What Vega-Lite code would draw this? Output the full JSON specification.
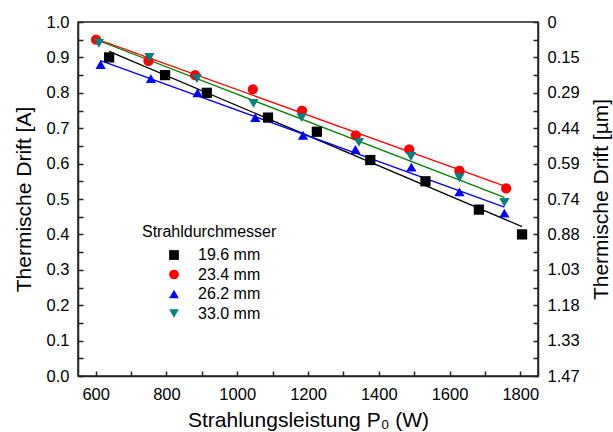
{
  "$schema": "https://vega.github.io/schema/vega-lite/v6.json",
  "width": 460,
  "height": 354,
  "autosize": "none",
  "padding": {"left": 78, "top": 22, "right": 75, "bottom": 56},
  "background": "white",
  "config": {
    "font": "Liberation Sans",
    "view": {"stroke": "#222", "strokeWidth": 1.5},
    "axis": {
      "grid": false,
      "domainColor": "#222",
      "domainWidth": 1.5,
      "tickColor": "#222",
      "tickWidth": 1.5,
      "tickSize": -5,
      "labelFontSize": 16.5,
      "labelColor": "#000",
      "labelPadding": 14,
      "titleFontSize": 21,
      "titleFontWeight": "normal",
      "titleColor": "#000"
    }
  },
  "data": {
    "values": [
      {"diam": "19.6 mm", "power": 638, "drift": 0.90},
      {"diam": "19.6 mm", "power": 796, "drift": 0.85},
      {"diam": "19.6 mm", "power": 914, "drift": 0.80},
      {"diam": "19.6 mm", "power": 1087, "drift": 0.73},
      {"diam": "19.6 mm", "power": 1225, "drift": 0.69},
      {"diam": "19.6 mm", "power": 1376, "drift": 0.61},
      {"diam": "19.6 mm", "power": 1532, "drift": 0.55},
      {"diam": "19.6 mm", "power": 1683, "drift": 0.47},
      {"diam": "19.6 mm", "power": 1805, "drift": 0.40},
      {"diam": "23.4 mm", "power": 601, "drift": 0.95},
      {"diam": "23.4 mm", "power": 749, "drift": 0.89},
      {"diam": "23.4 mm", "power": 881, "drift": 0.85},
      {"diam": "23.4 mm", "power": 1044, "drift": 0.81},
      {"diam": "23.4 mm", "power": 1183, "drift": 0.75},
      {"diam": "23.4 mm", "power": 1335, "drift": 0.68},
      {"diam": "23.4 mm", "power": 1486, "drift": 0.64},
      {"diam": "23.4 mm", "power": 1628, "drift": 0.58},
      {"diam": "23.4 mm", "power": 1760, "drift": 0.53},
      {"diam": "26.2 mm", "power": 614, "drift": 0.88},
      {"diam": "26.2 mm", "power": 756, "drift": 0.84},
      {"diam": "26.2 mm", "power": 888, "drift": 0.80},
      {"diam": "26.2 mm", "power": 1051, "drift": 0.73},
      {"diam": "26.2 mm", "power": 1186, "drift": 0.68},
      {"diam": "26.2 mm", "power": 1334, "drift": 0.64},
      {"diam": "26.2 mm", "power": 1492, "drift": 0.59},
      {"diam": "26.2 mm", "power": 1628, "drift": 0.52},
      {"diam": "26.2 mm", "power": 1755, "drift": 0.46},
      {"diam": "33.0 mm", "power": 609, "drift": 0.94},
      {"diam": "33.0 mm", "power": 752, "drift": 0.90},
      {"diam": "33.0 mm", "power": 886, "drift": 0.84},
      {"diam": "33.0 mm", "power": 1046, "drift": 0.77},
      {"diam": "33.0 mm", "power": 1182, "drift": 0.73},
      {"diam": "33.0 mm", "power": 1344, "drift": 0.66},
      {"diam": "33.0 mm", "power": 1491, "drift": 0.62},
      {"diam": "33.0 mm", "power": 1628, "drift": 0.56},
      {"diam": "33.0 mm", "power": 1755, "drift": 0.49}
    ]
  },
  "layer": [
    {
      "transform": [{"regression": "drift", "on": "power", "groupby": ["diam"]}],
      "mark": {"type": "line", "strokeWidth": 1.3},
      "encoding": {
        "x": {
          "field": "power", "type": "quantitative",
          "scale": {"domain": [550, 1850], "nice": false, "zero": false},
          "axis": {
            "title": "Strahlungsleistung P₀ (W)",
            "values": [600, 700, 800, 900, 1000, 1100, 1200, 1300, 1400, 1500, 1600, 1700, 1800],
            "labelExpr": "datum.value % 200 == 0 ? format(datum.value, 'd') : ''",
            "labelPadding": 15,
            "titlePadding": 7
          }
        },
        "y": {
          "field": "drift", "type": "quantitative",
          "scale": {"domain": [0, 1], "nice": false},
          "axis": {
            "orient": "right",
            "title": "Thermische Drift [µm]",
            "titleAngle": -90,
            "values": [0, 0.05, 0.1, 0.15, 0.2, 0.25, 0.3, 0.35, 0.4, 0.45, 0.5, 0.55, 0.6, 0.65, 0.7, 0.75, 0.8, 0.85, 0.9, 0.95, 1],
            "labelExpr": "['1.47','','1.33','','1.18','','1.03','','0.88','','0.74','','0.59','','0.44','','0.29','','0.15','','0'][round(datum.value*20)]",
            "titlePadding": 32
          }
        },
        "stroke": {
          "field": "diam", "type": "nominal",
          "scale": {"domain": ["33.0 mm", "26.2 mm", "23.4 mm", "19.6 mm"], "range": ["#008000", "#0000ff", "#ff0000", "#000000"]},
          "legend": null
        }
      }
    },
    {
      "mark": {"type": "point", "filled": true, "size": 105, "opacity": 1},
      "encoding": {
        "x": {
          "field": "power", "type": "quantitative",
          "scale": {"domain": [550, 1850], "nice": false, "zero": false},
          "axis": {
            "title": "Strahlungsleistung P₀ (W)",
            "values": [600, 700, 800, 900, 1000, 1100, 1200, 1300, 1400, 1500, 1600, 1700, 1800],
            "labelExpr": "datum.value % 200 == 0 ? format(datum.value, 'd') : ''",
            "labelPadding": 15,
            "titlePadding": 7
          }
        },
        "y": {
          "field": "drift", "type": "quantitative",
          "scale": {"domain": [0, 1], "nice": false},
          "axis": {
            "title": "Thermische Drift [A]",
            "values": [0, 0.05, 0.1, 0.15, 0.2, 0.25, 0.3, 0.35, 0.4, 0.45, 0.5, 0.55, 0.6, 0.65, 0.7, 0.75, 0.8, 0.85, 0.9, 0.95, 1],
            "labelExpr": "round(datum.value*20) % 2 == 0 ? format(datum.value, '.1f') : ''",
            "titlePadding": 12
          }
        },
        "color": {
          "field": "diam", "type": "nominal",
          "scale": {"domain": ["19.6 mm", "23.4 mm", "26.2 mm", "33.0 mm"], "range": ["#000000", "#ff0000", "#0000ff", "#008080"]},
          "legend": {
            "orient": "none",
            "legendX": 64,
            "legendY": 202,
            "title": "Strahldurchmesser",
            "titleFontSize": 16,
            "titleFontWeight": "normal",
            "titleColor": "#000",
            "labelFontSize": 16,
            "labelFontWeight": "normal",
            "labelColor": "#000",
            "symbolOffset": 24,
            "labelOffset": 16,
            "rowPadding": 3.5,
            "symbolSize": 95,
            "symbolStrokeWidth": 0,
            "titlePadding": 7
          }
        },
        "shape": {
          "field": "diam", "type": "nominal",
          "scale": {"domain": ["19.6 mm", "23.4 mm", "26.2 mm", "33.0 mm"], "range": ["square", "circle", "triangle-up", "triangle-down"]},
          "legend": {
            "orient": "none",
            "legendX": 64,
            "legendY": 202,
            "title": "Strahldurchmesser",
            "titleFontSize": 16,
            "titleFontWeight": "normal",
            "titleColor": "#000",
            "labelFontSize": 16,
            "labelFontWeight": "normal",
            "labelColor": "#000",
            "symbolOffset": 24,
            "labelOffset": 16,
            "rowPadding": 3.5,
            "symbolSize": 95,
            "symbolStrokeWidth": 0,
            "titlePadding": 7
          }
        }
      }
    }
  ],
  "resolve": {"axis": {"y": "independent"}}
}
